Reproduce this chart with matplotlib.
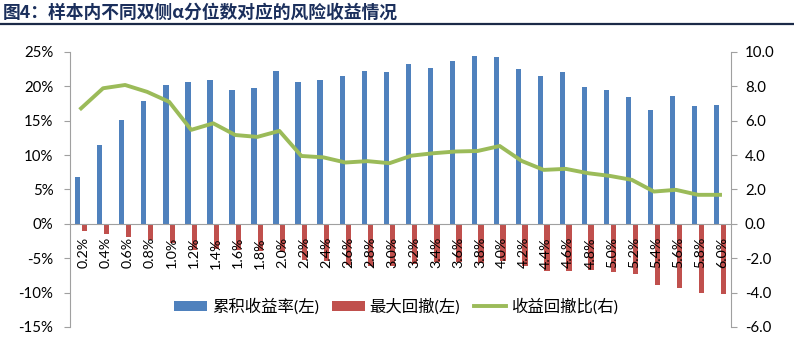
import numpy as np
import matplotlib
matplotlib.use("Agg")
import matplotlib.pyplot as plt
import matplotlib.transforms as mtransforms
from matplotlib.ticker import FuncFormatter, MultipleLocator

plt.rcParams["font.family"] = ["Lato", "Noto Sans CJK SC", "DejaVu Sans"]

# quantile levels (x axis)
quantiles = ["0.2%", "0.4%", "0.6%", "0.8%", "1.0%", "1.2%", "1.4%", "1.6%",
             "1.8%", "2.0%", "2.2%", "2.4%", "2.6%", "2.8%", "3.0%", "3.2%",
             "3.4%", "3.6%", "3.8%", "4.0%", "4.2%", "4.4%", "4.6%", "4.8%",
             "5.0%", "5.2%", "5.4%", "5.6%", "5.8%", "6.0%"]

# cumulative return, %
cum_return = [6.8, 11.5, 15.1, 17.9, 20.2, 20.6, 20.9, 19.5, 19.8, 22.2,
              20.6, 20.9, 21.5, 22.2, 22.1, 23.2, 22.7, 23.7, 24.4, 24.3,
              22.5, 21.5, 22.1, 19.9, 19.5, 18.5, 16.6, 18.6, 17.1, 17.3]

# max drawdown, %
max_drawdown = [-1.0, -1.45, -1.9, -2.3, -2.85, -3.75, -3.6, -3.75, -3.9, -4.1,
                -5.2, -5.4, -6.0, -6.1, -6.2, -5.85, -5.5, -5.6, -5.75, -5.35,
                -6.15, -6.85, -6.9, -6.75, -7.0, -7.25, -8.85, -9.4, -10.1, -10.25]

# return / drawdown ratio (right axis)
ratio = [6.72, 7.89, 8.08, 7.68, 7.1, 5.47, 5.85, 5.17, 5.06, 5.41,
         3.95, 3.87, 3.57, 3.65, 3.53, 3.97, 4.11, 4.21, 4.24, 4.53,
         3.66, 3.14, 3.2, 2.95, 2.79, 2.56, 1.88, 1.98, 1.69, 1.69]

blue = "#4F81BD"
red = "#C0504D"
green = "#9BBB59"
axis_gray = "#A0A0A0"

x = np.arange(len(quantiles))

fig = plt.figure(figsize=(7.94, 3.45), dpi=100)

# title and rule
fig.text(0.004, 0.962, "图4：样本内不同双侧α分位数对应的风险收益情况",
         family=["Noto Sans CJK SC", "DejaVu Sans"], fontweight="heavy",
         fontsize=12.8, color="#1B2F5C", va="center", ha="left")
fig.add_artist(plt.Line2D([0, 1], [0.929, 0.929], color="#1B2A48",
                          linewidth=1.6, transform=fig.transFigure))

ax = fig.add_axes([0.0882, 0.0522, 0.8325, 0.7971])
ax.bar(x - 0.15, cum_return, width=0.24, color=blue, label="累积收益率(左)")
ax.bar(x + 0.15, max_drawdown, width=0.24, color=red, label="最大回撤(左)")

ax.set_xlim(-0.5, len(quantiles) - 0.5)
ax.set_ylim(-15, 25)
ax.yaxis.set_major_locator(MultipleLocator(5))
ax.yaxis.set_major_formatter(FuncFormatter(lambda v, p: f"{v:.0f}%"))

ax.spines["top"].set_visible(False)
ax.spines["right"].set_visible(False)
ax.spines["left"].set_color(axis_gray)
ax.spines["bottom"].set_color(axis_gray)
ax.spines["bottom"].set_position(("data", 0))

ax.set_xticks(x)
ax.set_xticklabels(quantiles, rotation=90, fontsize=10.3)
ax.tick_params(axis="x", length=0, pad=9.5)
# nudge the category labels a little to the right
shift = mtransforms.ScaledTranslation(2.5 / 100, 0, fig.dpi_scale_trans)
for lbl in ax.get_xticklabels():
    lbl.set_transform(lbl.get_transform() + shift)
ax.tick_params(axis="y", direction="out", length=4, color=axis_gray,
               labelsize=10.8, pad=8)

ax2 = ax.twinx()
ax2.plot(x, ratio, color=green, linewidth=2.8, label="收益回撤比(右)",
         solid_joinstyle="round")
ax2.set_ylim(-6, 10)
ax2.yaxis.set_major_locator(MultipleLocator(2))
ax2.yaxis.set_major_formatter(FuncFormatter(lambda v, p: f"{v:.1f}"))
for side in ["top", "left", "bottom"]:
    ax2.spines[side].set_visible(False)
ax2.spines["right"].set_color(axis_gray)
ax2.tick_params(axis="y", direction="out", length=4, color=axis_gray,
                labelsize=10.8, pad=6)

handles1, labels1 = ax.get_legend_handles_labels()
handles2, labels2 = ax2.get_legend_handles_labels()
leg = ax2.legend(handles1 + handles2, labels1 + labels2, loc="center",
                 bbox_to_anchor=(0.4935, 0.075), ncol=3, frameon=False,
                 fontsize=11.8, handlelength=2.0, handleheight=0.6,
                 handletextpad=0.3, columnspacing=0.8)

fig.savefig("out.png", dpi=100)
